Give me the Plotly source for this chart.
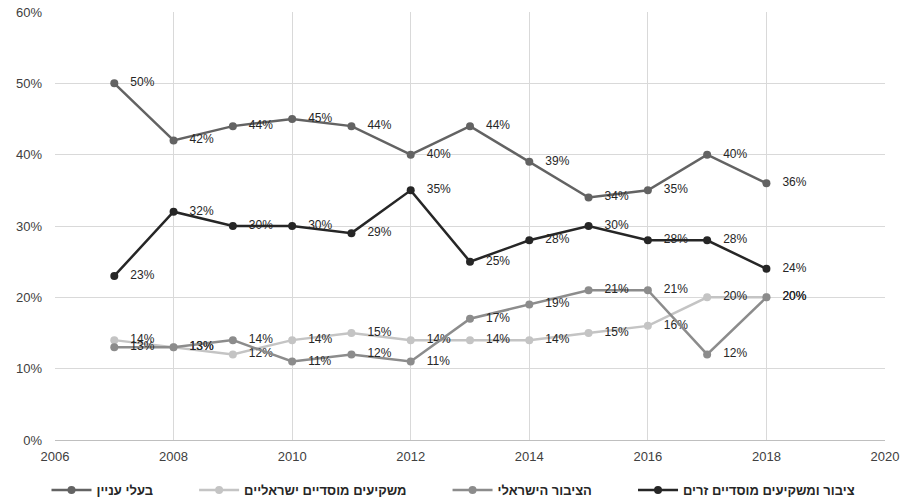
import plotly.graph_objects as go

years = [2007, 2008, 2009, 2010, 2011, 2012, 2013, 2014, 2015, 2016, 2017, 2018]

# Shares per holder group (percent)
interested_parties = [50, 42, 44, 45, 44, 40, 44, 39, 34, 35, 40, 36]
israeli_institutional = [14, 13, 12, 14, 15, 14, 14, 14, 15, 16, 20, 20]
israeli_public = [13, 13, 14, 11, 12, 11, 17, 19, 21, 21, 12, 20]
foreign_public_institutional = [23, 32, 30, 30, 29, 35, 25, 28, 30, 28, 28, 24]

series = [
    ("בעלי עניין", interested_parties, "#636363"),
    ("משקיעים מוסדיים ישראליים", israeli_institutional, "#c4c4c4"),
    ("הציבור הישראלי", israeli_public, "#8c8c8c"),
    ("ציבור ומשקיעים מוסדיים זרים", foreign_public_institutional, "#262626"),
]

font_family = "Liberation Sans, DejaVu Sans, Arial, sans-serif"
gap = "\u00a0" * 10

fig = go.Figure()
for i, (name, values, color) in enumerate(series):
    fig.add_trace(go.Scatter(
        x=years,
        y=[v / 100 for v in values],
        name=name + (gap if i < len(series) - 1 else ""),
        mode="lines+markers+text",
        line=dict(color=color, width=2.5),
        marker=dict(color=color, size=8),
        text=["\u00a0\u00a0\u00a0%d%%" % v for v in values],
        textposition="middle right",
        textfont=dict(family=font_family, size=12, color="#262626"),
        cliponaxis=False,
        hoverinfo="skip",
    ))

fig.update_layout(
    width=907,
    height=501,
    margin=dict(l=55, r=22, t=12, b=61, autoexpand=False),
    paper_bgcolor="white",
    plot_bgcolor="white",
    font=dict(family=font_family, color="#404040"),
    showlegend=True,
    legend=dict(
        orientation="h",
        x=0.5,
        xanchor="center",
        xref="container",
        y=0.022,
        yanchor="middle",
        yref="container",
        font=dict(family=font_family, size=13, color="#262626", weight="bold"),
        itemwidth=40,
        tracegroupgap=0,
    ),
    xaxis=dict(
        range=[2006, 2020],
        dtick=2,
        tick0=2006,
        showgrid=True,
        gridcolor="#d9d9d9",
        gridwidth=1,
        showline=True,
        linecolor="#bfbfbf",
        zeroline=False,
        ticks="",
        ticklabelstandoff=4,
        tickfont=dict(family=font_family, size=13, color="#404040"),
    ),
    yaxis=dict(
        range=[0, 0.6],
        dtick=0.1,
        tickformat=".0%",
        showgrid=True,
        gridcolor="#d9d9d9",
        gridwidth=1,
        zeroline=False,
        showline=False,
        ticks="",
        ticklabelstandoff=12,
        tickfont=dict(family=font_family, size=13, color="#404040"),
    ),
)

fig.write_html("out.html")
